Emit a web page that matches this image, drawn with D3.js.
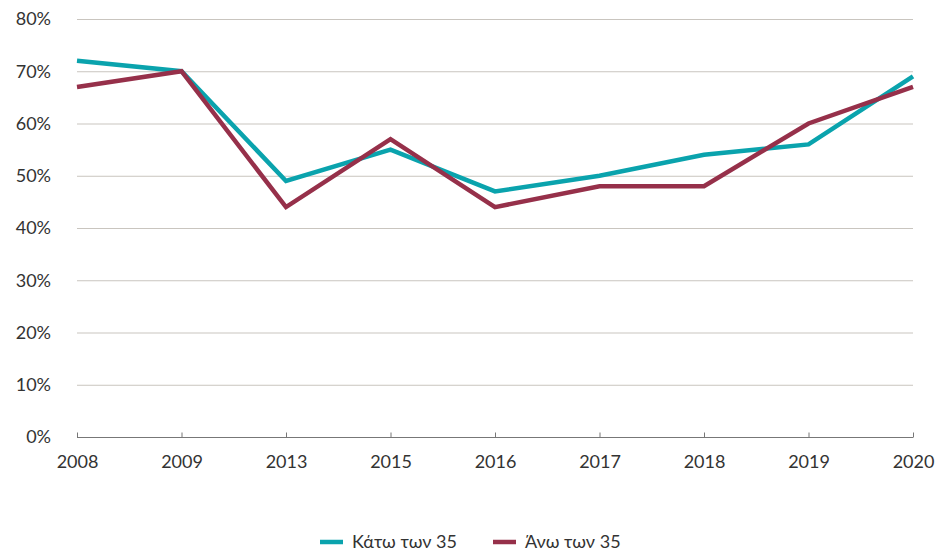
<!DOCTYPE html>
<html lang="el">
<head>
<meta charset="utf-8">
<title>Chart</title>
<script src="https://cdn.jsdelivr.net/npm/d3@7"></script>
<style>
  body { margin: 0; background: #fff; }
  svg text { font-family: Lato, "Noto Sans", sans-serif; fill: #333; }
</style>
</head>
<body>
<div id="chart"></div>
<script>
// data
var years = ["2008", "2009", "2013", "2015", "2016", "2017", "2018", "2019", "2020"];
var under35 = [72, 70, 49, 55, 47, 50, 54, 56, 69];
var over35 = [67, 70, 44, 57, 44, 48, 48, 60, 67];
var seriesNames = ["Κάτω των 35", "Άνω των 35"];
var seriesColors = ["#0aa3ad", "#96304a"];
var yTicks = [0, 10, 20, 30, 40, 50, 60, 70, 80];

var w = 936, h = 553;
var padL = 77, padR = 913, padT = 19, padB = 437;

var svg = d3.select("#chart").append("svg")
  .attr("width", w).attr("height", h);

var xScale = d3.scalePoint().domain(years).range([padL, padR]);
var yScale = d3.scaleLinear().domain([0, 80]).range([padB, padT]);

// gridlines
svg.append("g")
  .selectAll("line")
  .data(yTicks.filter(function(d) { return d > 0; }))
  .enter().append("line")
  .attr("x1", padL).attr("x2", padR)
  .attr("y1", function(d) { return yScale(d) + 0.5; })
  .attr("y2", function(d) { return yScale(d) + 0.5; })
  .attr("stroke", "#c9c5bf").attr("stroke-width", 1);

// y labels
svg.append("g")
  .selectAll("text")
  .data(yTicks)
  .enter().append("text")
  .attr("x", 51)
  .attr("y", function(d) { return yScale(d); })
  .attr("dy", "0.35em")
  .attr("text-anchor", "end")
  .style("font-size", "18px")
  .text(function(d) { return d + "%"; });

// x axis
var xAxis = svg.append("g")
  .attr("transform", "translate(0," + (padB + 0.5) + ")")
  .call(d3.axisBottom(xScale).tickSize(5).tickPadding(13));
xAxis.select(".domain").attr("stroke", "#777").attr("d", "M" + padL + ",0H" + padR);
xAxis.selectAll(".tick line").attr("stroke", "#777").attr("y1", -5).attr("y2", 0);
xAxis.selectAll(".tick text")
  .style("font-size", "18px")
  .style("font-family", "Lato, 'Noto Sans', sans-serif")
  .attr("fill", "#333");

// lines
var line = d3.line()
  .x(function(d, i) { return xScale(years[i]); })
  .y(function(d) { return yScale(d); });

[under35, over35].forEach(function(s, k) {
  svg.append("path")
    .datum(s)
    .attr("fill", "none")
    .attr("stroke", seriesColors[k])
    .attr("stroke-width", 4.5)
    .attr("d", line);
});

// legend
var legendX = [320, 493];
seriesNames.forEach(function(name, k) {
  svg.append("line")
    .attr("x1", legendX[k]).attr("x2", legendX[k] + 23)
    .attr("y1", 542).attr("y2", 542)
    .attr("stroke", seriesColors[k]).attr("stroke-width", 4.5);
  svg.append("text")
    .attr("x", legendX[k] + 32).attr("y", 542)
    .attr("dy", "0.35em")
    .style("font-size", "18px")
    .text(name);
});
</script>
</body>
</html>
